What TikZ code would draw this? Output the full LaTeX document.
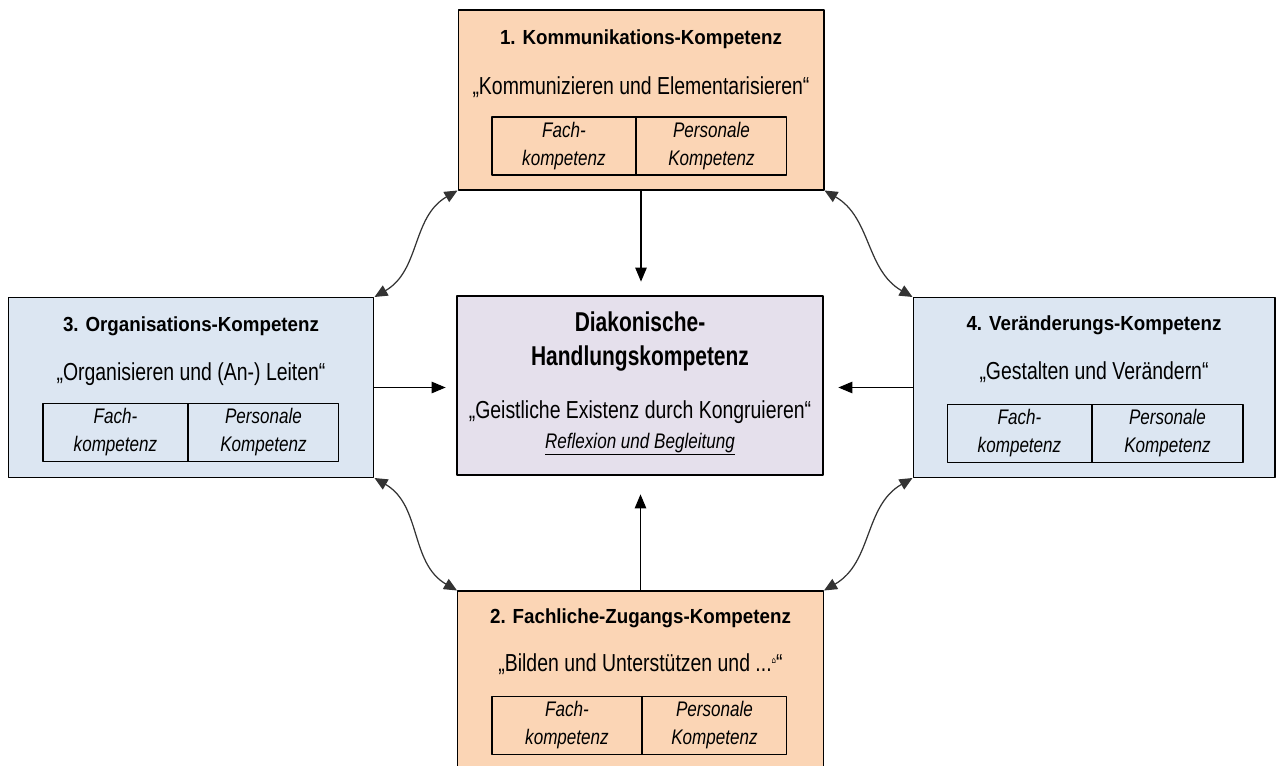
\documentclass[tikz,border=0pt]{standalone}
\usepackage{fontspec}
\setmainfont{Liberation Sans}
\newfontfamily\dejavu{DejaVu Sans}
\usepackage{graphicx}
\usetikzlibrary{arrows.meta,positioning}
\definecolor{liteorange}{HTML}{FBD5B5}
\definecolor{liteblue}{HTML}{DCE6F2}
\definecolor{litelilac}{HTML}{E5E0EC}
\newcommand{\schmal}[2][0.8]{\scalebox{#1}[1]{#2}}

\begin{document}
\begin{tikzpicture}[line cap=round,line join=round,x=0.02cm,y=0.02cm,
	kasten/.style={draw=black,line width=0.6pt,minimum width=7.32cm,minimum height=3.6cm,inner sep=0pt},
	zelle/.style={draw=black,line width=0.6pt,minimum height=1.16cm,inner sep=0pt,outer sep=0pt,align=center,font=\fontsize{12}{15.9}\selectfont\itshape},
	titel/.style={anchor=base,font=\fontsize{11.6}{14}\selectfont\bfseries},
	motto/.style={anchor=base,font=\fontsize{14}{16}\selectfont},
	pfeil/.style={-{Triangle[length=2.8mm,width=2.3mm]},line width=0.6pt},
	bogen/.style={{Triangle[length=2.6mm,width=2.3mm]}-{Triangle[length=2.6mm,width=2.3mm]},line width=0.7pt,draw=black!80}]
	\useasboundingbox (0,0) rectangle (1277,765);
	\clip (0,0) rectangle (1277,765);
	% Kaesten
	\node[kasten,fill=liteorange] (kommbox) at (641,665) {};
	\node[kasten,fill=liteorange] (zugangbox) at (640.5,84) {};
	\node[kasten,fill=liteblue] (orgabox) at (191,377.5) {};
	\node[kasten,fill=liteblue,minimum width=7.24cm] (veraebox) at (1094,377.5) {};
	\node[kasten,fill=litelilac,line width=1.6pt,minimum height=3.58cm] (diakbox) at (640,379.5) {};
	% 1. Kommunikation
	\node[titel] (kommtitel) at (641,720) {\schmal[0.92]{1. Kommunikations-Kompetenz}};
	\node[motto] (kommmotto) at (641,670) {\schmal[0.79]{„Kommunizieren und Elementarisieren“}};
	\node[zelle,minimum width=2.88cm] (kommfach) at (564,619) {\schmal[0.81]{Fach-}\\\schmal[0.81]{kompetenz}};
	\node[zelle,minimum width=3.02cm,right=0pt of kommfach] (kommpers) {\schmal[0.81]{Personale}\\\schmal[0.81]{Kompetenz}};
	% 2. Fachlicher Zugang
	\node[titel] (zugangtitel) at (640.5,142) {\schmal[0.92]{2. Fachliche-Zugangs-Kompetenz}};
	\node[motto] (zugangmotto) at (640.5,94) {\schmal[0.79]{„Bilden und Unterstützen und ...\raisebox{0.6ex}{\dejavu\tiny ⌂}“}};
	\node[zelle,minimum width=3.0cm] (zugangfach) at (567,39.5) {\schmal[0.81]{Fach-}\\\schmal[0.81]{kompetenz}};
	\node[zelle,minimum width=2.9cm,right=0pt of zugangfach] (zugangpers) {\schmal[0.81]{Personale}\\\schmal[0.81]{Kompetenz}};
	% 3. Organisation
	\node[titel] (orgatitel) at (191,434) {\schmal[0.92]{3. Organisations-Kompetenz}};
	\node[motto] (orgamotto) at (191,385) {\schmal[0.79]{„Organisieren und (An-) Leiten“}};
	\node[zelle,minimum width=2.9cm] (orgafach) at (115.5,332.5) {\schmal[0.81]{Fach-}\\\schmal[0.81]{kompetenz}};
	\node[zelle,minimum width=3.02cm,right=0pt of orgafach] (orgapers) {\schmal[0.81]{Personale}\\\schmal[0.81]{Kompetenz}};
	% 4. Veraenderung
	\node[titel] (veraetitel) at (1094,435) {\schmal[0.92]{4. Veränderungs-Kompetenz}};
	\node[motto] (veraemotto) at (1094,386) {\schmal[0.79]{„Gestalten und Verändern“}};
	\node[zelle,minimum width=2.9cm] (veraefach) at (1019.5,331.5) {\schmal[0.81]{Fach-}\\\schmal[0.81]{kompetenz}};
	\node[zelle,minimum width=3.02cm,right=0pt of veraefach] (veraepers) {\schmal[0.81]{Personale}\\\schmal[0.81]{Kompetenz}};
	% Mitte
	\node[anchor=base,align=center,font=\fontsize{15.5}{18.8}\selectfont\bfseries] (diaktitel) at (640,400) {\schmal[0.77]{Diakonische-}\\\schmal[0.77]{Handlungskompetenz}};
	\node[motto] (diakmotto) at (640,347) {\schmal[0.79]{„Geistliche Existenz durch Kongruieren“}};
	\node[anchor=base,font=\fontsize{12}{14}\selectfont\itshape] (diakreflex) at (640,317) {\schmal[0.81]{\underline{Reflexion und Begleitung}}};
	% Pfeile
	\draw[pfeil,shorten >=0.26cm] (kommbox.south) -- (kommbox.south |- diakbox.north);
	\draw[pfeil,shorten >=0.36cm] (zugangbox.north) -- (zugangbox.north |- diakbox.south);
	\draw[pfeil,shorten >=0.2cm] (orgabox.east) -- (orgabox.east -| diakbox.west);
	\draw[pfeil,shorten >=0.28cm] (veraebox.west) -- (veraebox.west -| diakbox.east);
	\draw[bogen] (orgabox.north east) to[out=30,in=210] (kommbox.south west);
	\draw[bogen] (kommbox.south east) to[out=-30,in=150] (veraebox.north west);
	\draw[bogen] (orgabox.south east) to[out=-30,in=150] (zugangbox.north west);
	\draw[bogen] (zugangbox.north east) to[out=30,in=210] (veraebox.south west);
\end{tikzpicture}
\end{document}
